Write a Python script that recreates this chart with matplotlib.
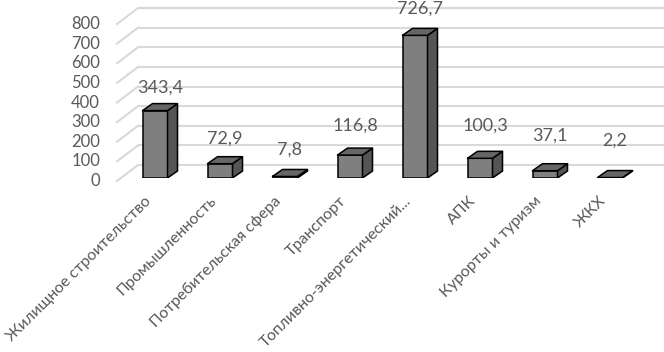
import matplotlib
matplotlib.use("Agg")
import matplotlib.pyplot as plt
import matplotlib.transforms as mtransforms
from matplotlib.patches import Polygon
import numpy as np

categories = ["Жилищное строительство", "Промышленность", "Потребительская сфера",
              "Транспорт", "Топливно-энергетический...", "АПК", "Курорты и туризм", "ЖКХ"]
values = [343.4, 72.9, 7.8, 116.8, 726.7, 100.3, 37.1, 2.2]
value_labels = ["343,4", "72,9", "7,8", "116,8", "726,7", "100,3", "37,1", "2,2"]
yticks = [0, 100, 200, 300, 400, 500, 600, 700, 800]

plt.rcParams['font.family'] = ['Lato', 'DejaVu Sans']
TXT = '#595959'

W, H, DPI = 664, 352, 100
fig = plt.figure(figsize=(W / DPI, H / DPI), dpi=DPI)

# layout (pixels)
x0_px, step_px = 155.0, 65.0     # first bar center, spacing
base_px = 178.0                  # baseline from top
ppu = 0.19625                    # pixels per value unit

ax = fig.add_axes([0, (H - base_px) / H, 1, base_px / H])
ax.set_xlim(-x0_px / step_px, (W - x0_px) / step_px)
ax.set_ylim(0, base_px / ppu)
for s in ax.spines.values():
    s.set_visible(False)
ax.set_yticks([])

def dx(px):
    return px / step_px

def dy(px):
    return px / ppu

x = np.arange(len(categories))

# back wall gridlines + floor diagonals
back_x0 = dx(138 - x0_px)
front_x0 = dx(117 - x0_px)
xr = ax.get_xlim()[1]
for v in yticks:
    ax.plot([back_x0, xr], [v + dy(13), v + dy(13)], color='#d9d9d9', lw=1.5,
            zorder=1, clip_on=False, solid_capstyle='butt')
    ax.plot([front_x0, back_x0], [v - dy(3), v + dy(13)], color='#d9d9d9', lw=1.5,
            zorder=1, clip_on=False)
    ax.text(dx(100 - x0_px), v - dy(3), str(v), ha='right', va='center',
            fontsize=12, color=TXT, clip_on=False)

# bars
bw = dx(25)
ddx, ddy = dx(10), dy(7)
ax.bar(x, values, width=bw, color='#7f7f7f', edgecolor='black', linewidth=1.1, zorder=3)
for xi, v in zip(x, values):
    r = xi + bw / 2
    l = xi - bw / 2
    side = Polygon([(r, 0), (r + ddx, ddy), (r + ddx, v + ddy), (r, v)], closed=True,
                   facecolor='#555555', edgecolor='black', linewidth=1.1, zorder=3)
    top = Polygon([(l, v), (l + ddx, v + ddy), (r + ddx, v + ddy), (r, v)], closed=True,
                  facecolor='#666666', edgecolor='black', linewidth=1.1, zorder=3,
                  joinstyle='round')
    ax.add_patch(side)
    ax.add_patch(top)

# data labels (kept inside the figure)
ytop = ax.get_ylim()[1]
for i, (xi, v, lab) in enumerate(zip(x, values, value_labels)):
    ylab = min(v + ddy + dy(16 + 2 * i), ytop - dy(9))
    ax.text(xi + ddx / 2, ylab, lab, ha='center', va='center',
            fontsize=13, color=TXT, clip_on=False)

# category labels
ax.set_xticks(x)
ax.set_xticklabels(categories, rotation=45, ha='right', va='center',
                   rotation_mode='anchor', fontsize=11.5, color=TXT)
ax.tick_params(axis='x', length=0, pad=15)
off = mtransforms.ScaledTranslation(-6 / DPI, 0, fig.dpi_scale_trans)
for lbl in ax.get_xticklabels():
    lbl.set_transform(lbl.get_transform() + off)

fig.savefig('out.png', dpi=DPI)
